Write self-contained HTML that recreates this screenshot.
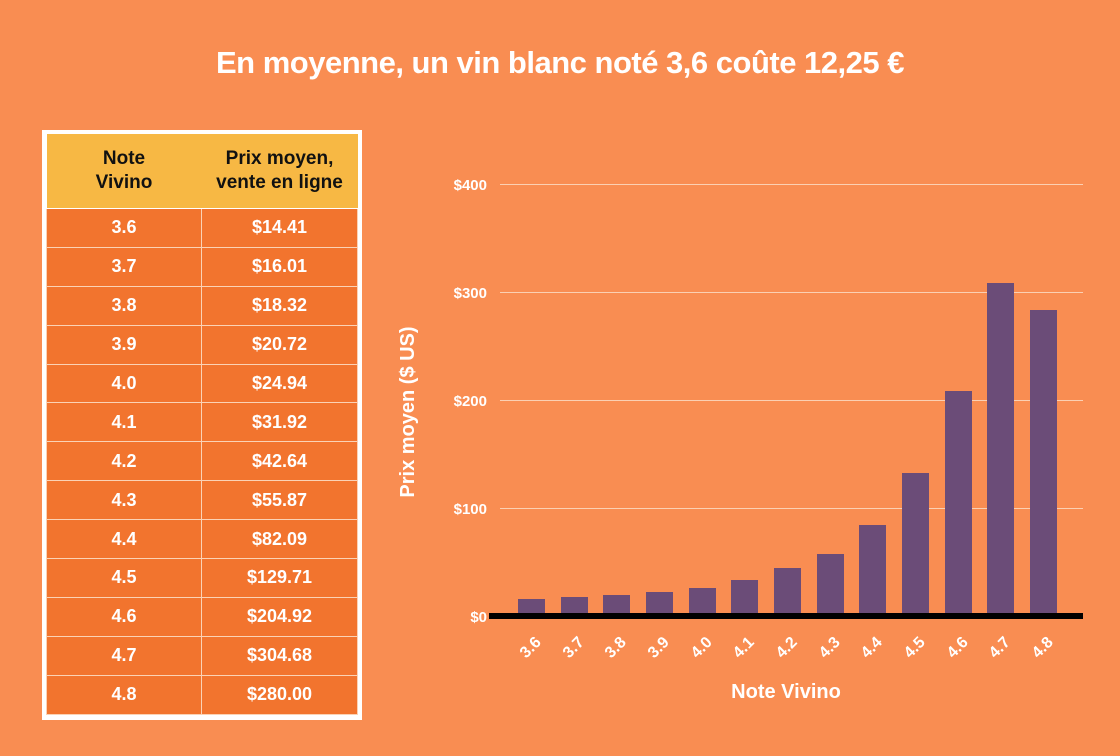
<!DOCTYPE html>
<html><head><meta charset="utf-8"><style>
body{margin:0;width:1120px;height:756px;background:#F98D52;font-family:"Liberation Sans",sans-serif;position:relative;overflow:hidden}
.title{position:absolute;top:45px;left:0;width:1120px;text-align:center;color:#fff;font-weight:bold;font-size:31px;letter-spacing:-0.5px}
.tbl{position:absolute;left:42px;top:130px;width:312px;height:582px;border:4px solid #fff;background:#fff}
table{border-collapse:collapse;width:100%;}
td{border:1px solid #fbd2b5;background:#F2742E;color:#fff;font-weight:bold;font-size:18px;text-align:center;height:37.9px;padding:0}
th{background:#F7B844;color:#111;font-size:19px;line-height:24px;height:74px;padding:0;border-bottom:1px solid #fff}
</style></head><body>
<div class="title">En moyenne, un vin blanc noté 3,6 coûte 12,25 €</div>
<div class="tbl"><table>
<tr><th style="width:155px">Note<br>Vivino</th><th>Prix moyen,<br>vente en ligne</th></tr>
<tr><td>3.6</td><td>$14.41</td></tr>
<tr><td>3.7</td><td>$16.01</td></tr>
<tr><td>3.8</td><td>$18.32</td></tr>
<tr><td>3.9</td><td>$20.72</td></tr>
<tr><td>4.0</td><td>$24.94</td></tr>
<tr><td>4.1</td><td>$31.92</td></tr>
<tr><td>4.2</td><td>$42.64</td></tr>
<tr><td>4.3</td><td>$55.87</td></tr>
<tr><td>4.4</td><td>$82.09</td></tr>
<tr><td>4.5</td><td>$129.71</td></tr>
<tr><td>4.6</td><td>$204.92</td></tr>
<tr><td>4.7</td><td>$304.68</td></tr>
<tr><td>4.8</td><td>$280.00</td></tr>
</table></div>
<svg width="1120" height="756" style="position:absolute;left:0;top:0" font-family="Liberation Sans,sans-serif" font-weight="bold" fill="#fff">
<g stroke="#fbd0b3" stroke-width="1">
<line x1="500" y1="184.5" x2="1083" y2="184.5"/><line x1="500" y1="292.5" x2="1083" y2="292.5"/>
<line x1="500" y1="400.5" x2="1083" y2="400.5"/><line x1="500" y1="508.5" x2="1083" y2="508.5"/>
</g>
<g font-size="15" text-anchor="end">
<text x="487" y="190">$400</text><text x="487" y="298">$300</text><text x="487" y="406">$200</text><text x="487" y="514">$100</text><text x="487" y="622">$0</text>
</g>
<g fill="#6B4C78">
<rect x="518" y="599" width="27" height="16"/>
<rect x="561" y="597" width="27" height="18"/>
<rect x="603" y="595" width="27" height="20"/>
<rect x="646" y="592" width="27" height="23"/>
<rect x="689" y="588" width="27" height="27"/>
<rect x="731" y="580" width="27" height="35"/>
<rect x="774" y="568" width="27" height="47"/>
<rect x="817" y="554" width="27" height="61"/>
<rect x="859" y="525" width="27" height="90"/>
<rect x="902" y="473" width="27" height="142"/>
<rect x="945" y="391" width="27" height="224"/>
<rect x="987" y="283" width="27" height="332"/>
<rect x="1030" y="310" width="27" height="305"/>
</g>
<rect x="489" y="613" width="594" height="6" fill="#000"/>
<g font-size="16" text-anchor="middle">
<text transform="translate(534,651) rotate(-45)">3.6</text>
<text transform="translate(577,651) rotate(-45)">3.7</text>
<text transform="translate(619,651) rotate(-45)">3.8</text>
<text transform="translate(662,651) rotate(-45)">3.9</text>
<text transform="translate(705,651) rotate(-45)">4.0</text>
<text transform="translate(747,651) rotate(-45)">4.1</text>
<text transform="translate(790,651) rotate(-45)">4.2</text>
<text transform="translate(833,651) rotate(-45)">4.3</text>
<text transform="translate(875,651) rotate(-45)">4.4</text>
<text transform="translate(918,651) rotate(-45)">4.5</text>
<text transform="translate(961,651) rotate(-45)">4.6</text>
<text transform="translate(1003,651) rotate(-45)">4.7</text>
<text transform="translate(1046,651) rotate(-45)">4.8</text>
</g>
<text x="786" y="698" font-size="20" text-anchor="middle">Note Vivino</text>
<text transform="translate(414,412) rotate(-90)" font-size="20" text-anchor="middle">Prix moyen ($ US)</text>
</svg>
</body></html>
